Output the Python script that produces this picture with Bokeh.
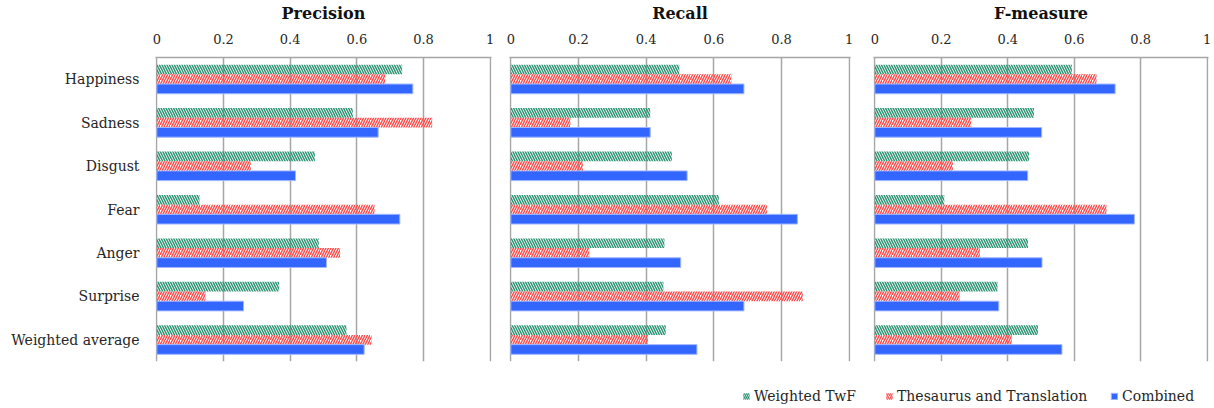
from bokeh.plotting import figure
from bokeh.models import (ColumnDataSource, FactorRange, Range1d, FixedTicker,
                          NumeralTickFormatter, Legend, LegendItem)
from bokeh.transform import dodge
from bokeh.layouts import row, column
from bokeh.embed import file_html
from bokeh.resources import INLINE

categories = ["Happiness", "Sadness", "Disgust", "Fear", "Anger", "Surprise", "Weighted average"]
series_names = ["Weighted TwF", "Thesaurus and Translation", "Combined"]

precision_twf = [0.736, 0.588, 0.474, 0.128, 0.486, 0.367, 0.569]
precision_thes = [0.685, 0.826, 0.282, 0.653, 0.550, 0.146, 0.644]
precision_comb = [0.768, 0.664, 0.416, 0.729, 0.509, 0.260, 0.622]

recall_twf = [0.498, 0.412, 0.476, 0.615, 0.454, 0.451, 0.458]
recall_thes = [0.652, 0.176, 0.213, 0.757, 0.232, 0.863, 0.405]
recall_comb = [0.689, 0.412, 0.521, 0.847, 0.502, 0.689, 0.550]

fmeas_twf = [0.593, 0.479, 0.464, 0.209, 0.461, 0.369, 0.491]
fmeas_thes = [0.667, 0.290, 0.235, 0.697, 0.316, 0.255, 0.412]
fmeas_comb = [0.723, 0.502, 0.460, 0.781, 0.503, 0.373, 0.563]

tick_values = [0, 0.2, 0.4, 0.6, 0.8, 1]

FONT = "DejaVu Serif"
TXT = "#262626"
GRID = "#a6a6a6"
GREEN = "#2e9474"
RED = "#ff5050"
BLUE = "#3366ff"
BLUE_EDGE = "#9fb6ff"
BAR_H = 0.223


def panel(title, twf, thes, comb, width, left, right, show_labels):
    src = ColumnDataSource(dict(cat=categories, twf=twf, thes=thes, comb=comb))
    p = figure(width=width, height=370, output_backend="svg", toolbar_location=None,
               y_range=FactorRange(factors=list(reversed(categories))),
               x_range=Range1d(-0.004, 1.004), x_axis_location="above",
               min_border_left=left, min_border_right=right,
               min_border_top=57, min_border_bottom=9)
    p.outline_line_color = None

    p.hbar(y=dodge("cat", BAR_H, range=p.y_range), right="twf", height=BAR_H, source=src,
           fill_color=None, line_color=None, hatch_pattern="\\", hatch_color=GREEN,
           hatch_scale=5, hatch_weight=1.5)
    p.hbar(y=dodge("cat", 0, range=p.y_range), right="thes", height=BAR_H, source=src,
           fill_color=None, line_color=None, hatch_pattern="/", hatch_color=RED,
           hatch_scale=5, hatch_weight=1.5)
    p.hbar(y=dodge("cat", -BAR_H, range=p.y_range), right="comb", height=BAR_H, source=src,
           fill_color=BLUE, line_color=BLUE_EDGE, line_width=1)

    xa = p.xaxis[0]
    xa.ticker = FixedTicker(ticks=tick_values)
    xa.formatter = NumeralTickFormatter(format="0.[0]")
    xa.major_tick_in = 0
    xa.major_tick_out = 0
    xa.minor_tick_in = 0
    xa.minor_tick_out = 0
    xa.axis_line_color = GRID
    xa.axis_line_width = 1.5
    xa.major_label_standoff = 14
    xa.major_label_text_font = FONT
    xa.major_label_text_font_size = "13px"
    xa.major_label_text_color = TXT
    # panel title drawn as the label of the top axis
    xa.axis_label = title
    xa.axis_label_standoff = 8
    xa.axis_label_text_font = FONT
    xa.axis_label_text_font_size = "16px"
    xa.axis_label_text_font_style = "bold"
    xa.axis_label_text_color = "#111111"

    ya = p.yaxis[0]
    if show_labels:
        ya.major_tick_in = 0
        ya.major_tick_out = 0
        ya.axis_line_color = None
        ya.major_label_standoff = 16
        ya.major_label_text_font = FONT
        ya.major_label_text_font_size = "14px"
        ya.major_label_text_color = TXT
    else:
        ya.visible = False

    p.xgrid.ticker = FixedTicker(ticks=tick_values)
    p.xgrid.grid_line_color = GRID
    p.xgrid.grid_line_width = 1.5
    p.ygrid.grid_line_color = None
    return p


p1 = panel("Precision", precision_twf, precision_thes, precision_comb, 500, 155, 9, True)
p2 = panel("Recall", recall_twf, recall_thes, recall_comb, 362, 9, 12, False)
p3 = panel("F-measure", fmeas_twf, fmeas_thes, fmeas_comb, 351, 11, 5, False)

# legend strip (swatch glyphs sit far outside the visible x range)
lg = figure(width=1214, height=36, output_backend="svg", toolbar_location=None,
            x_range=Range1d(0, 1), y_range=Range1d(0, 1),
            x_axis_type=None, y_axis_type=None,
            min_border_left=0, min_border_right=0, min_border_top=0, min_border_bottom=0)
lg.outline_line_color = None
lg.xgrid.visible = False
lg.ygrid.visible = False
offscreen = ColumnDataSource(dict(y=[0.5], left=[20.0], right=[21.0]))
r1 = lg.hbar(y="y", left="left", right="right", height=0.2, source=offscreen,
             fill_color=None, line_color=None,
             hatch_pattern="\\", hatch_color=GREEN, hatch_scale=4, hatch_weight=1.4)
r2 = lg.hbar(y="y", left="left", right="right", height=0.2, source=offscreen,
             fill_color=None, line_color=None,
             hatch_pattern="/", hatch_color=RED, hatch_scale=4, hatch_weight=1.4)
r3 = lg.hbar(y="y", left="left", right="right", height=0.2, source=offscreen,
             fill_color=BLUE, line_color=BLUE_EDGE)

for name, rend, xpos in zip(series_names, [r1, r2, r3], [742, 885, 1110]):
    lgd = Legend(items=[LegendItem(label=name, renderers=[rend])],
                 orientation="horizontal", location=(xpos, 2),
                 glyph_width=8, glyph_height=8, label_standoff=4,
                 padding=0, margin=0, border_line_color=None, background_fill_alpha=0,
                 label_text_font=FONT, label_text_font_size="14px", label_text_color=TXT,
                 label_height=14)
    lg.add_layout(lgd)

layout = column(row(p1, p2, p3), lg)
open("out.html", "w").write(file_html(layout, INLINE))
